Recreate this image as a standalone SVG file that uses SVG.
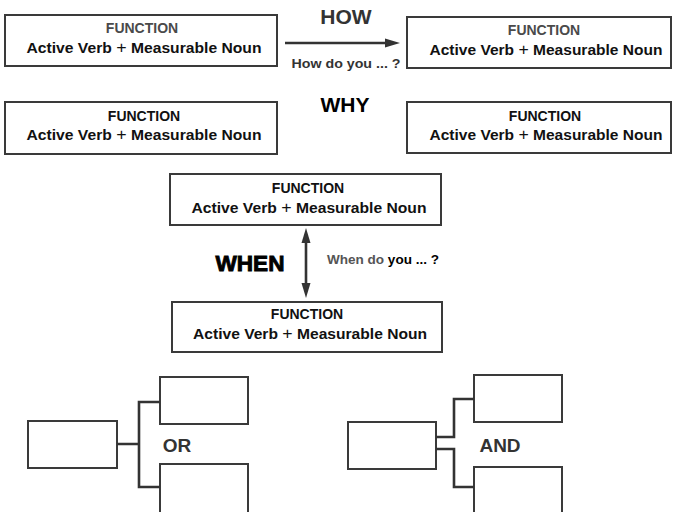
<svg xmlns="http://www.w3.org/2000/svg" width="673" height="512" viewBox="0 0 673 512">
  <style>
    .box { fill: #ffffff; stroke: #3a3a3a; stroke-width: 2; }
    .wire { fill: none; stroke: #333333; stroke-width: 2.6; stroke-linejoin: miter; }
    .arrow { fill: none; stroke: #333333; stroke-width: 2.6; }
    text { font-family: "Liberation Sans", Arial, sans-serif; font-weight: bold; text-anchor: middle; }
    .fn { font-size: 14px; fill: #111111; }
    .fn.dim { fill: #4a4a4a; }
    .av { font-size: 15px; fill: #111111; }
    .plus { font-size: 17px; font-weight: normal; }
    .big { font-size: 21px; }
    .when { font-size: 22.5px; fill: #000000; stroke: #000000; stroke-width: 0.9; }
    .ask { font-size: 13px; fill: #333333; }
    .logic { font-size: 19px; fill: #333333; }
  </style>
  <defs>
    <marker id="head" markerUnits="userSpaceOnUse" markerWidth="15" markerHeight="10" refX="5" refY="5" orient="auto-start-reverse">
      <path d="M0,0.5 L15,5 L0,9.5 z" fill="#333333"/>
    </marker>
  </defs>

  <rect width="673" height="512" fill="#ffffff"/>

  <!-- HOW / WHY row captions -->
  <text class="big" x="346" y="24" fill="#333333">HOW</text>
  <text class="ask" x="346" y="68" textLength="109" lengthAdjust="spacingAndGlyphs">How do you ... ?</text>
  <text class="big" x="345" y="112" fill="#000000">WHY</text>

  <!-- WHEN caption -->
  <text class="when" x="250" y="271" textLength="69" lengthAdjust="spacingAndGlyphs">WHEN</text>
  <text class="ask" x="383" y="264" textLength="112" lengthAdjust="spacingAndGlyphs"><tspan fill="#555555">When do </tspan><tspan fill="#000000">you ... ?</tspan></text>

  <!-- function nodes -->
  <g id="fn-how-from">
    <rect class="box" x="5" y="15" width="272" height="51"/>
    <text class="fn dim" x="142" y="33">FUNCTION</text>
    <text class="av" x="144" y="53" textLength="235" lengthAdjust="spacingAndGlyphs">Active Verb <tspan class="plus">+</tspan> Measurable Noun</text>
  </g>
  <g id="fn-how-to">
    <rect class="box" x="407" y="17" width="264" height="51"/>
    <text class="fn dim" x="544" y="35">FUNCTION</text>
    <text class="av" x="546" y="55" textLength="233" lengthAdjust="spacingAndGlyphs">Active Verb <tspan class="plus">+</tspan> Measurable Noun</text>
  </g>
  <g id="fn-why-left">
    <rect class="box" x="5" y="102" width="272" height="52"/>
    <text class="fn" x="144" y="120.5">FUNCTION</text>
    <text class="av" x="144" y="139.5" textLength="235" lengthAdjust="spacingAndGlyphs">Active Verb <tspan class="plus">+</tspan> Measurable Noun</text>
  </g>
  <g id="fn-why-right">
    <rect class="box" x="407" y="102" width="264" height="51"/>
    <text class="fn" x="545" y="120.5">FUNCTION</text>
    <text class="av" x="546" y="139.5" textLength="233" lengthAdjust="spacingAndGlyphs">Active Verb <tspan class="plus">+</tspan> Measurable Noun</text>
  </g>
  <g id="fn-when-top">
    <rect class="box" x="170" y="174" width="271" height="51"/>
    <text class="fn" x="308" y="193">FUNCTION</text>
    <text class="av" x="309" y="212.5" textLength="235" lengthAdjust="spacingAndGlyphs">Active Verb <tspan class="plus">+</tspan> Measurable Noun</text>
  </g>
  <g id="fn-when-bottom">
    <rect class="box" x="172" y="302" width="270" height="50"/>
    <text class="fn" x="307" y="319">FUNCTION</text>
    <text class="av" x="310" y="338.5" textLength="234" lengthAdjust="spacingAndGlyphs">Active Verb <tspan class="plus">+</tspan> Measurable Noun</text>
  </g>

  <!-- OR branch -->
  <g id="or-source"><rect class="box" x="28" y="421" width="89" height="47"/></g>
  <g id="or-upper"><rect class="box" x="160" y="377" width="88" height="47"/></g>
  <g id="or-lower"><rect class="box" x="160" y="464" width="88" height="60"/></g>
  <text class="logic" x="177" y="452">OR</text>

  <!-- AND branch -->
  <g id="and-source"><rect class="box" x="348" y="422" width="88" height="47"/></g>
  <g id="and-upper"><rect class="box" x="474" y="375" width="88" height="47"/></g>
  <g id="and-lower"><rect class="box" x="474" y="467" width="88" height="60"/></g>
  <text class="logic" x="500" y="452">AND</text>

  <!-- connectors -->
  <g id="connectors">
    <line class="arrow" x1="285" y1="43" x2="390" y2="43" marker-end="url(#head)"/>
    <line class="arrow" x1="306" y1="238" x2="306" y2="288" marker-start="url(#head)" marker-end="url(#head)"/>
    <path class="wire" d="M117,444 H139 M160,402 H139 V487 H160"/>
    <path class="wire" d="M436,437 H454 V399 H474 M436,449 H454 V487 H474"/>
  </g>
</svg>
